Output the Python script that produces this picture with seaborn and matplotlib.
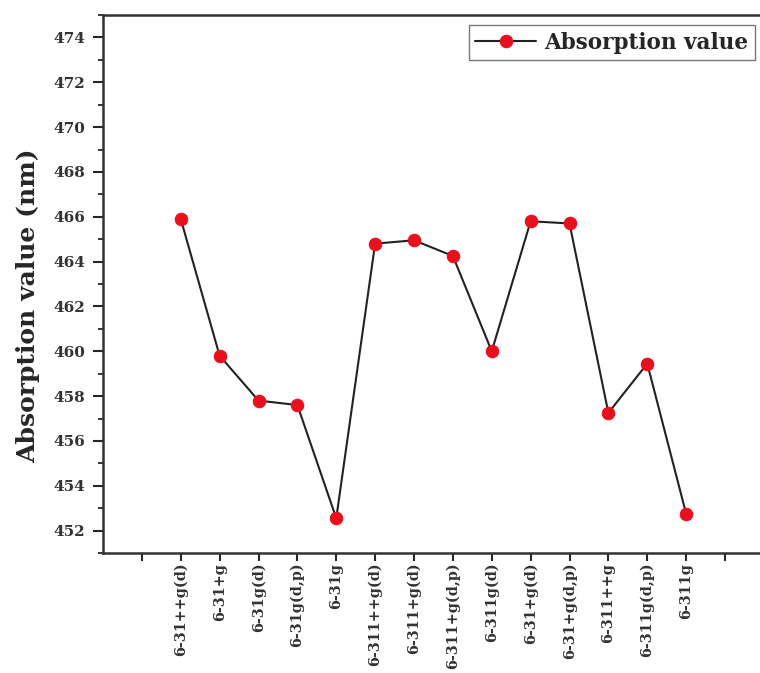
import numpy as np
import pandas as pd
import seaborn as sns
import matplotlib.pyplot as plt
from matplotlib.ticker import MultipleLocator

# basis sets and absorption values (nm)
basis_sets = ["6-31++g(d)", "6-31+g", "6-31g(d)", "6-31g(d,p)", "6-31g",
              "6-311++g(d)", "6-311+g(d)", "6-311+g(d,p)", "6-311g(d)",
              "6-31+g(d)", "6-31+g(d,p)", "6-311++g", "6-311g(d,p)", "6-311g"]
absorption = [465.9, 459.8, 457.8, 457.6, 452.55,
              464.8, 464.95, 464.25, 460.0,
              465.8, 465.7, 457.25, 459.45, 452.75]

df = pd.DataFrame({"pos": np.arange(1, len(basis_sets) + 1),
                   "basis": basis_sets,
                   "value": absorption})

sns.set_style("ticks")
plt.rcParams["font.family"] = ["DejaVu Serif"]
plt.rcParams["font.weight"] = "bold"

fig = plt.figure(figsize=(7.6, 6.73), dpi=100)
ax = fig.add_axes([103 / 760, 1 - 553 / 673, 1 - 103 / 760, (553 - 15) / 673])

sns.lineplot(data=df, x="pos", y="value", ax=ax, color="#222222", linewidth=1.5,
             marker="o", markersize=9, markerfacecolor="#e8101c",
             markeredgecolor="#e8101c", label="Absorption value")

ax.set_xlim(-1, 15.9)
ax.set_ylim(451, 475)
ax.set_xticks(np.arange(0, len(basis_sets) + 2))
ax.set_xticklabels([""] + basis_sets + [""], rotation=90, fontsize=10.4,
                   fontweight="bold")
ax.yaxis.set_major_locator(MultipleLocator(2))
ax.yaxis.set_minor_locator(MultipleLocator(1))
ax.set_yticks(np.arange(452, 475, 2))
for lab in ax.get_yticklabels():
    lab.set_fontsize(11)
    lab.set_fontweight("bold")
    lab.set_color("#333333")
for lab in ax.get_xticklabels():
    lab.set_color("#333333")

ax.tick_params(axis="y", which="major", direction="out", length=7, width=1.5, pad=6)
ax.tick_params(axis="x", which="major", direction="out", length=6, width=1.5, pad=1)
ax.tick_params(axis="y", which="minor", direction="out", length=3.6, width=1.3)
ax.set_xlabel("")
ax.set_ylabel("Absorption value (nm)", fontsize=18, fontweight="bold")
ax.yaxis.set_label_coords(-0.096, 0.46)

for side in ["left", "bottom", "top"]:
    ax.spines[side].set_visible(True)
    ax.spines[side].set_linewidth(1.8)
    ax.spines[side].set_color("#333333")
ax.spines["right"].set_visible(False)

leg = ax.legend(loc="upper right", frameon=True, fancybox=False,
                prop={"size": 15.5, "weight": "bold"}, handlelength=2.8,
                handletextpad=0.4, borderpad=0.3, borderaxespad=0,
                bbox_to_anchor=(0.992, 0.981))
leg.get_frame().set_edgecolor("#555555")
leg.get_frame().set_linewidth(1.0)

fig.savefig("out.png", dpi=100)
